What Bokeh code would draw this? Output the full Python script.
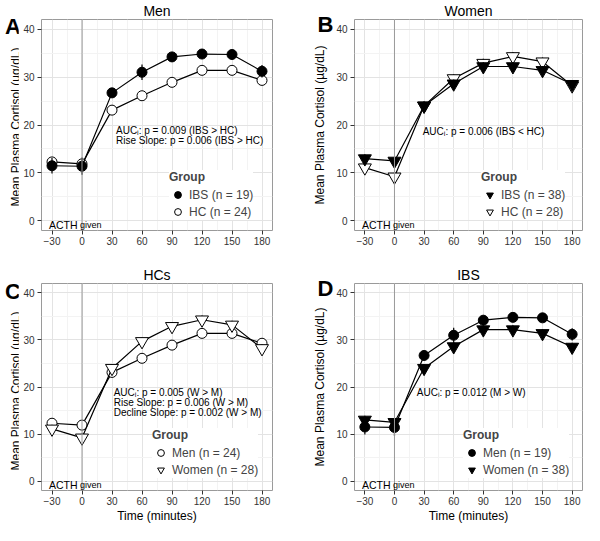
from bokeh.plotting import figure
from bokeh.layouts import column, row
from bokeh.models import FixedTicker, Label, Span, Legend, LegendItem, Range1d, Title, Div
from bokeh.embed import file_html
from bokeh.resources import INLINE

# ---- data ----
time = [-30, 0, 30, 60, 90, 120, 150, 180]
men_ibs = [11.5, 11.4, 26.7, 31.0, 34.2, 34.8, 34.7, 31.2]
men_ibs_sem = [1.6, 1.8, 1.0, 1.6, 1.0, 1.0, 0.9, 1.3]
men_hc = [12.3, 11.9, 23.1, 26.1, 28.9, 31.4, 31.4, 29.3]
men_hc_sem = [0.8, 0.8, 0.9, 0.9, 0.9, 0.9, 0.9, 0.9]
women_ibs = [13.0, 12.5, 24.0, 28.6, 32.2, 32.2, 31.4, 28.5]
women_ibs_sem = [0.9, 0.9, 0.9, 0.9, 0.9, 0.9, 0.9, 0.9]
women_hc = [11.1, 9.2, 24.0, 29.7, 32.9, 34.3, 33.2, 28.2]
women_hc_sem = [0.9, 0.9, 0.9, 0.9, 0.9, 0.9, 0.9, 0.9]

x_ticks = [-30, 0, 30, 60, 90, 120, 150, 180]
x_minor = [-15, 15, 45, 75, 105, 135, 165]
y_ticks = [0, 10, 20, 30, 40]
y_minor = [5, 15, 25, 35]

panel_titles = ["Men", "Women", "HCs", "IBS"]
panel_letters = ["A", "B", "C", "D"]
y_label = "Mean Plasma Cortisol (µg/dL)"
x_label = "Time (minutes)"

notes_a = ["AUCᵢ: p = 0.009 (IBS > HC)", "Rise Slope: p = 0.006 (IBS > HC)"]
notes_b = ["AUCᵢ: p = 0.006 (IBS < HC)"]
notes_c = ["AUCᵢ: p = 0.005 (W > M)", "Rise Slope: p = 0.006 (W > M)",
           "Decline Slope: p = 0.002 (W > M)"]
notes_d = ["AUCᵢ: p = 0.012 (M > W)"]

FONT = "Liberation Sans"
X_LO, X_HI = -40.5, 190.5
Y_LO, Y_HI = -2, 42

ROW1_H, ROW2_H = 264, 261
SPACER_W = 18
TOP_B = 17
LETTER_SIZE = "22px"


def make_panel(title, letter, series, notes, note_xy, legend_pos, width, height,
               b_left, b_right, b_top, b_bottom, show_xlabel, own_side):
    t = Title(text=title, align="center", text_font=FONT, text_font_size="14px",
              text_font_style="normal", text_color="black", standoff=1)
    p = figure(width=width, height=height, output_backend="svg", toolbar_location=None,
               x_range=Range1d(X_LO, X_HI), y_range=Range1d(Y_LO, Y_HI),
               min_border_left=b_left, min_border_right=b_right,
               min_border_top=b_top, min_border_bottom=b_bottom,
               background_fill_color="white", border_fill_color="white", title=t)

    p.outline_line_color = "#9a9a9a"
    p.outline_line_width = 1

    p.xaxis.ticker = FixedTicker(ticks=x_ticks, minor_ticks=x_minor)
    p.yaxis.ticker = FixedTicker(ticks=y_ticks, minor_ticks=y_minor)
    p.xaxis.major_label_overrides = {-30: "−30"}
    for ax in (p.xaxis, p.yaxis):
        ax.axis_line_color = None
        ax.major_tick_line_color = "#333333"
        ax.major_tick_out = 4
        ax.major_tick_in = 0
        ax.minor_tick_line_color = None
        ax.major_label_text_font = FONT
        ax.major_label_text_font_size = "10px"
        ax.major_label_text_color = "#333333"
        ax.axis_label_text_font = FONT
        ax.axis_label_text_font_size = "12px"
        ax.axis_label_text_font_style = "normal"
        ax.axis_label_text_color = "black"
    p.xaxis.major_label_standoff = 2
    p.yaxis.major_label_standoff = 3
    if own_side:
        p.yaxis.axis_label = y_label
        p.yaxis.axis_label_standoff = 6
    if show_xlabel:
        p.xaxis.axis_label = x_label
        p.xaxis.axis_label_standoff = 1

    for g in (p.xgrid, p.ygrid):
        g.grid_line_color = "#e3e3e3"
        g.grid_line_width = 1
        g.minor_grid_line_color = "#f3f3f3"
        g.minor_grid_line_width = 1

    p.add_layout(Span(location=0, dimension="height", line_color="#9a9a9a", line_width=1))

    items = []
    for (label, vals, sem, marker, fill, size) in series:
        p.line(time, vals, line_color="black", line_width=1.2)
        lo = [v - s for v, s in zip(vals, sem)]
        hi = [v + s for v, s in zip(vals, sem)]
        p.segment(x0=time, y0=lo, x1=time, y1=hi, line_color="black", line_width=1.2)
        r = p.scatter(time, vals, marker=marker, size=size, fill_color=fill,
                      line_color="black", line_width=1)
        items.append(LegendItem(label=label, renderers=[r]))

    leg = Legend(items=items, location=legend_pos, title="Group",
                 title_text_font=FONT, title_text_font_size="12px",
                 title_text_font_style="bold", title_standoff=2,
                 label_text_font=FONT, label_text_font_size="12px",
                 label_standoff=3, glyph_width=17, glyph_height=17,
                 label_height=17, spacing=0, padding=2, margin=0,
                 border_line_color=None, background_fill_color="white",
                 background_fill_alpha=1.0)
    p.add_layout(leg)

    nx, ny = note_xy
    for i, txt in enumerate(notes):
        p.add_layout(Label(x=nx, y=ny - 2.2 * i, text=txt, text_font=FONT,
                           text_font_size="10px", text_align="left",
                           text_baseline="middle", text_color="black"))

    p.add_layout(Label(x=-33, y=-0.8, text="ACTH", text_font=FONT,
                       text_font_size="10.5px", text_align="left",
                       text_baseline="alphabetic", text_color="black"))
    p.add_layout(Label(x=-33, y=-0.8, x_offset=31, text="given", text_font=FONT,
                       text_font_size="9px", text_align="left",
                       text_baseline="alphabetic", text_color="black"))

    if own_side:
        # panel letter in the (wide) left side panel, so it is not clipped
        frame_w = width - b_left - b_right
        frame_h = height - b_top - b_bottom
        px_x = frame_w / (X_HI - X_LO)
        px_y = frame_h / (Y_HI - Y_LO)
        p.add_layout(Label(x=X_LO - 37 / px_x, y=Y_HI - 5 / px_y,
                           text=letter, text_font=FONT, text_font_size=LETTER_SIZE,
                           text_font_style="bold", text_align="left",
                           text_baseline="middle", text_color="black"), "left")
    return p


def make_side(letter, height, b_top, b_bottom):
    """Narrow strip left of a panel holding its letter and its y-axis title."""
    frame_mid = b_top + (height - b_top - b_bottom) / 2 + 3
    letter_mid = b_top + 10
    html = (
        f'<div style="position:relative;width:{SPACER_W}px;height:{height}px;'
        f'font-family:\'{FONT}\',Arial,sans-serif;color:black;overflow:visible;">'
        f'<div style="position:absolute;left:5px;top:{letter_mid - 13}px;'
        f'font-size:{LETTER_SIZE};font-weight:bold;line-height:26px;">{letter}</div>'
        f'<div style="position:absolute;left:{16 - 100}px;top:{frame_mid - 7}px;'
        f'width:200px;height:14px;line-height:14px;font-size:12px;text-align:center;'
        f'white-space:nowrap;transform:rotate(-90deg);transform-origin:50% 50%;">'
        f'{y_label}</div></div>'
    )
    return Div(text=html, width=SPACER_W, height=height, margin=0,
               styles={"overflow": "visible"})


LEFT_W = 292 - SPACER_W

sA = make_side(panel_letters[0], ROW1_H, TOP_B, 34)
pA = make_panel(panel_titles[0], panel_letters[0],
                [("HC (n = 24)", men_hc, men_hc_sem, "circle", "white", 10),
                 ("IBS (n = 19)", men_ibs, men_ibs_sem, "circle", "black", 10)],
                notes_a, (34, 18.9), (128, 10), LEFT_W, ROW1_H, 23, 20, TOP_B, 34, False, False)
pA.legend[0].items = list(reversed(pA.legend[0].items))

pB = make_panel(panel_titles[1], panel_letters[1],
                [("HC (n = 28)", women_hc, women_hc_sem, "inverted_triangle", "white", 13),
                 ("IBS (n = 38)", women_ibs, women_ibs_sem, "inverted_triangle", "black", 13)],
                notes_b, (28.6, 18.7), (127, 10), 292, ROW1_H, 62, 2, TOP_B, 34, False, True)
pB.legend[0].items = list(reversed(pB.legend[0].items))

sC = make_side(panel_letters[2], ROW2_H, TOP_B + 1, 32)
pC = make_panel(panel_titles[2], panel_letters[2],
                [("Men (n = 24)", men_hc, men_hc_sem, "circle", "white", 10),
                 ("Women (n = 28)", women_hc, women_hc_sem, "inverted_triangle", "white", 13)],
                notes_c, (31.7, 18.9), (111, 12), LEFT_W, ROW2_H, 23, 20, TOP_B + 1, 32, True, False)

pD = make_panel(panel_titles[3], panel_letters[3],
                [("Men (n = 19)", men_ibs, men_ibs_sem, "circle", "black", 10),
                 ("Women (n = 38)", women_ibs, women_ibs_sem, "inverted_triangle", "black", 13)],
                notes_d, (22.6, 18.9), (109, 12), 292, ROW2_H, 62, 2, TOP_B + 1, 32, True, True)

layout = column(row(sA, pA, pB), row(sC, pC, pD))

with open("out.html", "w") as f:
    f.write(file_html(layout, INLINE))
